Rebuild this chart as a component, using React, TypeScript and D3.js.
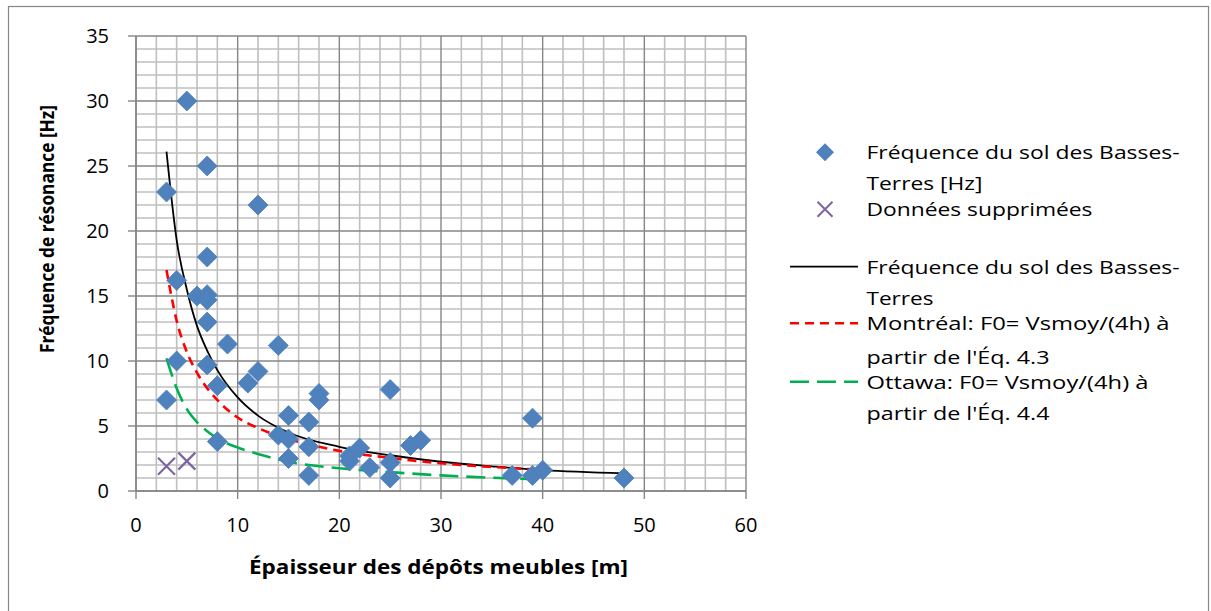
import React from "react";
import * as d3 from "d3";

// Observed ground frequency (Basses-Terres) [Hz] vs deposit thickness [m]
const obsX = [5, 7, 3, 12, 7, 4, 6, 7, 7, 7, 9, 14, 4, 7, 12, 11, 8, 3, 18, 18, 25, 15, 17, 14, 15, 8, 17, 27, 28, 15, 21, 21, 22, 23, 25, 25, 17, 37, 39, 40, 48, 39];
const obsY = [30, 25, 23, 22, 18, 16.2, 15, 15.1, 14.7, 13, 11.3, 11.2, 10, 9.7, 9.2, 8.3, 8.1, 7, 7.5, 7, 7.8, 5.8, 5.3, 4.3, 4.0, 3.8, 3.4, 3.5, 3.9, 2.5, 2.3, 2.7, 3.3, 1.8, 2.2, 1.0, 1.2, 1.2, 1.2, 1.6, 1.0, 5.6];

// Removed data
const supX = [3, 5];
const supY = [1.9, 2.3];

// Fitted curve (Basses-Terres)
const fitX = [3, 4, 5, 6, 7, 8, 10, 12, 15, 20, 25, 30, 35, 40, 48];
const fitY = [26.1, 19.3, 15.5, 12.7, 10.8, 9.3, 7.2, 5.8, 4.5, 3.4, 2.75, 2.25, 1.9, 1.6, 1.36];

// Montréal curve
const mtlX = [3, 4, 5, 6, 8, 10, 12, 15, 18, 21, 25, 30, 35, 39];
const mtlY = [17, 13.1, 10.7, 9.1, 7.0, 5.65, 4.85, 4.0, 3.4, 2.95, 2.55, 2.13, 1.85, 1.67];

// Ottawa curve
const ottX = [3, 4, 5, 6, 7, 8, 10, 12, 15, 20, 25, 30, 35, 39];
const ottY = [10.2, 7.9, 6.3, 5.3, 4.6, 4.05, 3.35, 2.85, 2.25, 1.75, 1.45, 1.2, 1.02, 0.92];

const xTicks = [0, 10, 20, 30, 40, 50, 60];
const yTicks = [0, 5, 10, 15, 20, 25, 30, 35];

const xTitle = "Épaisseur des dépôts meubles [m]";
const yTitle = "Fréquence de résonance [Hz]";
const legendLines = [
  "Fréquence du sol des Basses-",
  "Terres [Hz]",
  "Données supprimées",
  "Fréquence du sol des Basses-",
  "Terres",
  "Montréal: F0= Vsmoy/(4h) à",
  "partir de l'Éq. 4.3",
  "Ottawa: F0= Vsmoy/(4h) à",
  "partir de l'Éq. 4.4",
];

const W = 1211;
const H = 611;
const FONT = "'Open Sans', 'DejaVu Sans', sans-serif";

export default function App() {
  const x = d3.scaleLinear().domain([0, 60]).range([136, 746]);
  const y = d3.scaleLinear().domain([0, 35]).range([491, 36]);

  const minorX = d3.range(0, 61, 2).filter((v) => v % 10 !== 0);
  const minorY = d3.range(0, 36, 1).filter((v) => v % 5 !== 0);

  const line = d3
    .line<[number, number]>()
    .x((d) => x(d[0]))
    .y((d) => y(d[1]))
    .curve(d3.curveMonotoneX);

  const fitPath = line(fitX.map((v, i) => [v, fitY[i]]) as [number, number][]) || "";
  const mtlPath = line(mtlX.map((v, i) => [v, mtlY[i]]) as [number, number][]) || "";
  const ottPath = line(ottX.map((v, i) => [v, ottY[i]]) as [number, number][]) || "";

  const diamond = (cx: number, cy: number, r: number) =>
    `M${cx},${cy - r}L${cx + r},${cy}L${cx},${cy + r}L${cx - r},${cy}Z`;
  const cross = (cx: number, cy: number, r: number) =>
    `M${cx - r},${cy - r}L${cx + r},${cy + r}M${cx - r},${cy + r}L${cx + r},${cy - r}`;

  const minorColor = "#bfbfbf";
  const majorColor = "#868686";

  const legendY = [152.3, 183.3, 209.3, 266.7, 298.3, 323.3, 356.7, 381.7, 413.3];
  const legendW = [313, 116, 226, 313, 67, 303, 183, 282, 183];

  return (
    <svg
      width={W}
      height={H}
      style={{ position: "fixed", left: 0, top: 0, background: "#fff" }}
      fontFamily={FONT}
    >
      <rect x={0} y={0} width={W} height={H} fill="#fff" />
      <rect x={8.5} y={6.5} width={1200} height={620} fill="none" stroke={majorColor} strokeWidth={1.2} />

      {/* minor grid */}
      {minorX.map((v) => (
        <line key={"mx" + v} x1={x(v)} x2={x(v)} y1={y(0)} y2={y(35)} stroke={minorColor} strokeWidth={1.6} />
      ))}
      {minorY.map((v) => (
        <line key={"my" + v} x1={x(0)} x2={x(60)} y1={y(v)} y2={y(v)} stroke={minorColor} strokeWidth={1.6} />
      ))}
      {/* major grid */}
      {xTicks.map((v) => (
        <line key={"Mx" + v} x1={x(v)} x2={x(v)} y1={y(0)} y2={y(35)} stroke={majorColor} strokeWidth={1.4} />
      ))}
      {yTicks.map((v) => (
        <line key={"My" + v} x1={x(0)} x2={x(60)} y1={y(v)} y2={y(v)} stroke={majorColor} strokeWidth={1.4} />
      ))}
      {/* axes */}
      <line x1={x(0)} x2={x(0)} y1={y(0)} y2={y(35)} stroke={majorColor} strokeWidth={1.6} />
      <line x1={x(0)} x2={x(60)} y1={y(0)} y2={y(0)} stroke={majorColor} strokeWidth={1.6} />
      {yTicks.map((v) => (
        <line key={"ty" + v} x1={x(0) - 8} x2={x(0)} y1={y(v)} y2={y(v)} stroke={majorColor} strokeWidth={1.4} />
      ))}
      {xTicks.map((v) => (
        <line key={"tx" + v} x1={x(v)} x2={x(v)} y1={y(0)} y2={y(0) + 8} stroke={majorColor} strokeWidth={1.4} />
      ))}

      {/* tick labels */}
      {yTicks.map((v) => (
        <text key={"ly" + v} x={109} y={y(v)} dy="0.36em" textAnchor="end" fontSize={20} fill="#000">
          {v}
        </text>
      ))}
      {xTicks.map((v) => (
        <text key={"lx" + v} x={x(v)} y={y(0) + 41} textAnchor="middle" fontSize={20} fill="#000">
          {v}
        </text>
      ))}

      {/* axis titles */}
      <text x={438.5} y={574} textAnchor="middle" fontSize={19} fontWeight="bold" textLength={379} lengthAdjust="spacingAndGlyphs">
        {xTitle}
      </text>
      <text
        transform={`translate(47,229) rotate(-90)`}
        textAnchor="middle"
        fontSize={19}
        fontWeight="bold"
        dy="0.35em"
        textLength={248}
        lengthAdjust="spacingAndGlyphs"
      >
        {yTitle}
      </text>

      {/* series */}
      <path d={fitPath} fill="none" stroke="#000" strokeWidth={1.8} />
      <path d={mtlPath} fill="none" stroke="#ff0000" strokeWidth={2.6} strokeDasharray="9,6" />
      <path d={ottPath} fill="none" stroke="#00b050" strokeWidth={2.6} strokeDasharray="19,8" />

      {obsX.map((v, i) => (
        <path key={"o" + i} d={diamond(x(v), y(obsY[i]), 10)} fill="#4f81bd" stroke="#4a7ebb" strokeWidth={0.8} />
      ))}
      {supX.map((v, i) => (
        <path key={"s" + i} d={cross(x(v), y(supY[i]), 8.5)} fill="none" stroke="#8064a2" strokeWidth={2.2} />
      ))}

      {/* legend */}
      <path d={diamond(825, legendY[0], 9)} fill="#4f81bd" />
      <path d={cross(825, legendY[2], 7.5)} fill="none" stroke="#8064a2" strokeWidth={2} />
      <line x1={790} x2={858} y1={legendY[3]} y2={legendY[3]} stroke="#000" strokeWidth={1.8} />
      <line x1={790} x2={858} y1={legendY[5]} y2={legendY[5]} stroke="#ff0000" strokeWidth={2.6} strokeDasharray="9,6" />
      <line x1={790} x2={858} y1={legendY[7]} y2={legendY[7]} stroke="#00b050" strokeWidth={2.6} strokeDasharray="19,8" />
      {legendLines.map((t, i) => (
        <text
          key={"lg" + i}
          x={866.5}
          y={legendY[i]}
          dy="0.36em"
          fontSize={19}
          textLength={legendW[i]}
          lengthAdjust="spacingAndGlyphs"
          fill="#000"
        >
          {t}
        </text>
      ))}
    </svg>
  );
}
